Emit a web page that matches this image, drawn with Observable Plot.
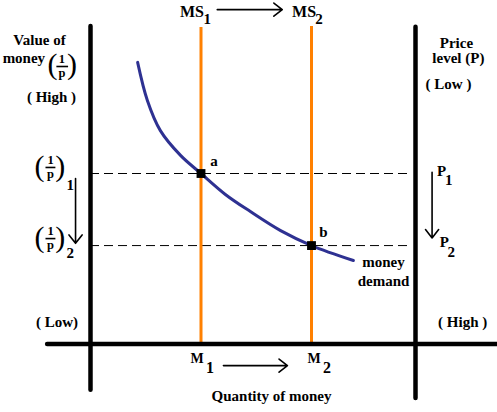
<!DOCTYPE html>
<html><head><meta charset="utf-8">
<script src="https://cdn.jsdelivr.net/npm/d3@7"></script>
<script src="https://cdn.jsdelivr.net/npm/@observablehq/plot@0.6"></script>
<style>html,body{margin:0;padding:0;background:#fff;} svg{display:block} svg text{font-family:"Liberation Serif",serif;}</style>
</head><body><div id="chart"></div>
<script>
// ---- diagram values (x: quantity of money, y: value of money 1/p) ----
const moneySupply = [34, 68];          // M1, M2
const msTop = [99.7, 100];
const valueLevels = [53.7, 31];        // (1/p)1, (1/p)2
const demandQ = [14.5, 17.5, 21.5, 27.7, 34, 41.5, 49.2, 58.5, 68, 80.9];
const demandV = [88.7, 76.7, 67.2, 59.4, 53.7, 47.1, 41.7, 35.7, 31, 26.3];
const pointNames = ["a", "b"];
const leftAxis = {x: 0, y1: -14.6, y2: 100};
const rightAxis = {x: 100, y1: -17.2, y2: 99.8};
const baseAxis = {y: 0, x1: -13.2, x2: 125.2};
const dashEnd = 98;

// arrows (shifts)
const arrows = [
  {x1: 39, y1: 105.3, x2: 59, y2: 105.3},     // MS1 -> MS2
  {x1: 40.9, y1: -6.8, x2: 60.6, y2: -6.8},   // M1 -> M2
  {x1: -4.6, y1: 52.1, x2: -4.6, y2: 31.7},   // (1/p)1 -> (1/p)2
  {x1: 105.1, y1: 54.1, x2: 105.1, y2: 33.4}  // P1 -> P2
];

// text labels
const labels = [
  {t: "Value of", x: -15.7, y: 94.3},
  {t: "money", x: -20.5, y: 88.5},
  {t: "( High )", x: -12.0, y: 76.2},
  {t: "( Low)", x: -10.3, y: 5.2},
  {t: "Price", x: 112.6, y: 93.2},
  {t: "level (P)", x: 113.2, y: 88.35},
  {t: "( Low )", x: 110.15, y: 80.2},
  {t: "( High )", x: 114.5, y: 5.2},
  {t: "a", x: 38.0, y: 56.2},
  {t: "b", x: 71.7, y: 33.6},
  {t: "money", x: 90.15, y: 24.3},
  {t: "demand", x: 90.15, y: 18.4},
  {t: "Quantity of money", x: 55.7, y: -17.8},
  {t: "MS", x: 31.2, y: 103.0, s: 16},
  {t: "MS", x: 65.7, y: 103.0, s: 16},
  {t: "1", x: 35.9, y: 100.9},
  {t: "2", x: 70.3, y: 100.9},
  {t: "M", x: 32.8, y: -6.1, s: 14},
  {t: "M", x: 68.8, y: -6.1, s: 14},
  {t: "1", x: 36.8, y: -9.0, s: 16},
  {t: "2", x: 72.8, y: -9.0, s: 16},
  {t: "P", x: 108.0, y: 52.9},
  {t: "1", x: 110.2, y: 50.2},
  {t: "P", x: 108.9, y: 30.7},
  {t: "2", x: 111.0, y: 27.5},
  {t: "1", x: -6.2, y: 48.35},
  {t: "2", x: -6.2, y: 27.2}
];
// stacked fractions 1/p (numerator over denominator)
const fractions = [
  {t: "1\np", x: -8.8, y: 84.25},
  {t: "1\np", x: -12.3, y: 52.4},
  {t: "1\np", x: -12.3, y: 30.0}
];
const parens = [
  {t: "(", x: -11.7, y: 85.0}, {t: ")", x: -5.7, y: 85.0},
  {t: "(", x: -15.7, y: 53.0}, {t: ")", x: -9.3, y: 53.0},
  {t: "(", x: -15.7, y: 30.7}, {t: ")", x: -9.3, y: 30.7}
];
const fractionBars = [
  {x1: -10.5, x2: -6.9, y: 87.4},
  {x1: -13.85, x2: -10.8, y: 55.6},
  {x1: -13.85, x2: -10.8, y: 33.2}
];

const demand = demandQ.map((q, i) => ({q, v: demandV[i]}));
const points = pointNames.map((n, i) => ({n, q: moneySupply[i], v: valueLevels[i]}));
const ms = moneySupply.map((m, i) => ({m, top: msTop[i]}));

const serif = "Liberation Serif";

const chart = Plot.plot({
  width: 497,
  height: 412,
  margin: 0,
  x: {domain: [0, 100], range: [90, 415], axis: null},
  y: {domain: [0, 100], range: [343.5, 26], axis: null},
  style: {background: "#fff", fontFamily: "Liberation Serif"},
  marks: [
    Plot.ruleY(valueLevels, {x1: leftAxis.x, x2: dashEnd, stroke: "#000", strokeWidth: 1, strokeDasharray: "9,5"}),
    Plot.ruleX(ms, {x: "m", y1: 0, y2: "top", stroke: "#ff8000", strokeWidth: 3}),
    Plot.line(demand, {x: "q", y: "v", stroke: "#2e3192", strokeWidth: 3, curve: "catmull-rom"}),
    Plot.dot(points, {x: "q", y: "v", symbol: "square", r: 5, fill: "#000", stroke: null}),
    Plot.ruleX([leftAxis], {x: "x", y1: "y1", y2: "y2", stroke: "#000", strokeWidth: 4.5, strokeLinecap: "round"}),
    Plot.ruleX([rightAxis], {x: "x", y1: "y1", y2: "y2", stroke: "#000", strokeWidth: 4.5, strokeLinecap: "round"}),
    Plot.ruleY([baseAxis], {y: "y", x1: "x1", x2: "x2", stroke: "#000", strokeWidth: 4.5, strokeLinecap: "round"}),
    Plot.arrow(arrows, {x1: "x1", y1: "y1", x2: "x2", y2: "y2", stroke: "#000", strokeWidth: 1.6, headLength: 10, headAngle: 76}),
    Plot.link(fractionBars, {x1: "x1", x2: "x2", y1: "y", y2: "y", stroke: "#000", strokeWidth: 1.6}),
    Plot.text(labels, {x: "x", y: "y", text: "t", fontSize: d => d.s ?? 15, fontWeight: "bold", fontFamily: serif, lineAnchor: "bottom", textAnchor: "middle", fill: "#000"}),
    Plot.text(fractions, {x: "x", y: "y", text: "t", fontSize: 12.5, lineHeight: 1.12, fontWeight: "bold", fontFamily: serif, lineAnchor: "bottom", textAnchor: "middle", fill: "#000"}),
    Plot.text(parens, {x: "x", y: "y", text: "t", fontSize: 30, fontFamily: serif, lineAnchor: "bottom", textAnchor: "middle", fill: "#000"})
  ]
});
document.getElementById("chart").appendChild(chart);
</script>
</body></html>
